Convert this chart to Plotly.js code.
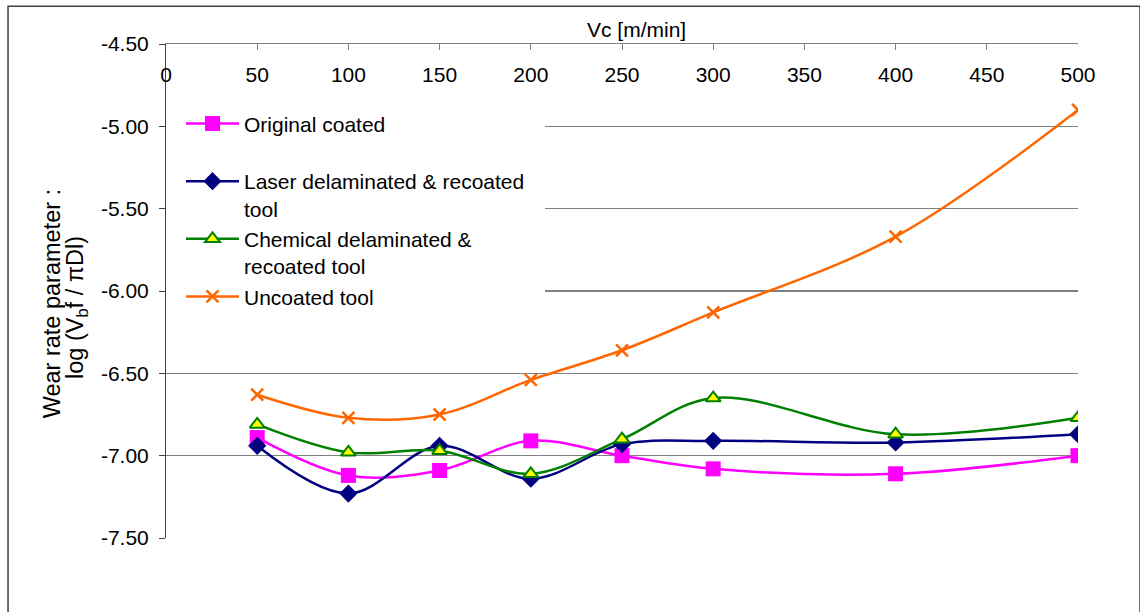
<!DOCTYPE html>
<html>
<head>
<meta charset="utf-8">
<script src="https://cdn.plot.ly/plotly-3.0.1.min.js"></script>
<style>
  html, body { margin: 0; padding: 0; background: #ffffff; }
  #chart { width: 1140px; height: 612px; }
</style>
</head>
<body>
<div id="chart"></div>
<script>
// Cutting speed Vc [m/min]
const vc = [50, 100, 150, 200, 250, 300, 400, 500];

// Wear rate parameter log(Vb f / pi D l) per tool condition
const originalCoated   = [-6.89, -7.12, -7.09, -6.91, -7.00, -7.08, -7.11, -7.00];
const laserRecoated    = [-6.94, -7.23, -6.94, -7.14, -6.93, -6.91, -6.92, -6.87];
const chemicalRecoated = [-6.81, -6.98, -6.97, -7.11, -6.90, -6.65, -6.87, -6.77];
const uncoatedTool     = [-6.63, -6.77, -6.75, -6.54, -6.36, -6.13, -5.67, -4.90];

const seriesNames = [
  'Original coated<br> ',
  'Laser delaminated & recoated<br>tool',
  'Chemical delaminated &<br>recoated tool',
  'Uncoated tool'
];

const yTicks = [-4.5, -5.0, -5.5, -6.0, -6.5, -7.0, -7.5];
const xTicks = [0, 50, 100, 150, 200, 250, 300, 350, 400, 450, 500];

const FONT = 'Arial, "Liberation Sans", sans-serif';

const traces = [
  {
    x: vc, y: originalCoated, name: seriesNames[0], mode: 'lines+markers',
    line: { color: '#FF00FF', width: 2.5, shape: 'spline', smoothing: 1 },
    marker: { symbol: 'square', size: 15, color: '#FF00FF' }
  },
  {
    x: vc, y: laserRecoated, name: seriesNames[1], mode: 'lines+markers',
    line: { color: '#000080', width: 2.5, shape: 'spline', smoothing: 1 },
    marker: { symbol: 'diamond', size: 14, color: '#000080' }
  },
  {
    x: vc, y: chemicalRecoated, name: seriesNames[2], mode: 'lines+markers',
    line: { color: '#008000', width: 2.5, shape: 'spline', smoothing: 1 },
    marker: { symbol: 'triangle-up', size: 13, color: '#FFFF00', line: { color: '#008000', width: 2 } }
  },
  {
    x: vc, y: uncoatedTool, name: seriesNames[3], mode: 'lines+markers',
    line: { color: '#FF6600', width: 2.5, shape: 'spline', smoothing: 1 },
    marker: { symbol: 'x-thin', size: 12, color: '#FF6600', line: { color: '#FF6600', width: 2.5 } }
  }
];

const layout = {
  width: 1140,
  height: 612,
  paper_bgcolor: '#ffffff',
  plot_bgcolor: '#ffffff',
  font: { family: FONT, size: 21, color: '#000000' },
  margin: { l: 166, r: 62, t: 44, b: 74 },
  showlegend: true,
  legend: {
    x: 0, xanchor: 'left',
    y: 0.91, yanchor: 'top',
    bgcolor: '#ffffff',
    bordercolor: '#ffffff',
    borderwidth: 15,
    valign: 'top',
    itemwidth: 53,
    tracegroupgap: 0,
    font: { family: FONT, size: 21, color: '#000000' }
  },
  xaxis: {
    side: 'top',
    range: [0, 500],
    tickmode: 'array',
    tickvals: xTicks,
    ticktext: xTicks.map(String),
    ticks: 'inside',
    ticklen: 6,
    tickcolor: '#808080',
    ticklabelposition: 'inside',
    ticklabeloverflow: 'allow',
    ticklabelstandoff: 19,
    showline: true,
    linecolor: '#808080',
    linewidth: 1.5,
    showgrid: false,
    zeroline: false,
    tickfont: { family: FONT, size: 21, color: '#000000' }
  },
  yaxis: {
    range: [-7.5, -4.5],
    tickmode: 'array',
    tickvals: yTicks,
    ticktext: yTicks.map(v => v.toFixed(2)),
    ticks: 'outside',
    ticklen: 6,
    tickcolor: '#404040',
    ticklabelstandoff: 6,
    showline: true,
    linecolor: '#404040',
    linewidth: 1,
    showgrid: true,
    gridcolor: '#808080',
    gridwidth: 1.5,
    zeroline: false,
    tickfont: { family: FONT, size: 21, color: '#000000' }
  },
  annotations: [
    {
      text: 'Vc [m/min]',
      xref: 'paper', yref: 'paper',
      x: 0.5164, y: 1.0,
      xanchor: 'center', yanchor: 'bottom',
      yshift: 1,
      showarrow: false,
      font: { family: FONT, size: 21, color: '#000000' }
    },
    {
      text: 'Wear rate parameter :',
      xref: 'paper', yref: 'paper',
      x: -0.125, y: 0.473,
      xanchor: 'center', yanchor: 'middle',
      textangle: -90,
      showarrow: false,
      font: { family: FONT, size: 23.5, color: '#000000' }
    },
    {
      text: 'log (V<sub>b</sub>f / πDl)',
      xref: 'paper', yref: 'paper',
      x: -0.098, y: 0.467,
      xanchor: 'center', yanchor: 'middle',
      textangle: -90,
      showarrow: false,
      font: { family: FONT, size: 23.5, color: '#000000' }
    }
  ],
  shapes: [
    {
      type: 'rect', xref: 'paper', yref: 'paper',
      x0: -0.1732, x1: 1.0680, y0: -0.2, y1: 1.0763,
      line: { color: '#404040', width: 1.5 },
      fillcolor: 'rgba(0,0,0,0)',
      layer: 'below'
    }
  ]
};

Plotly.newPlot('chart', traces, layout, { displayModeBar: false, staticPlot: true });
</script>
</body>
</html>
